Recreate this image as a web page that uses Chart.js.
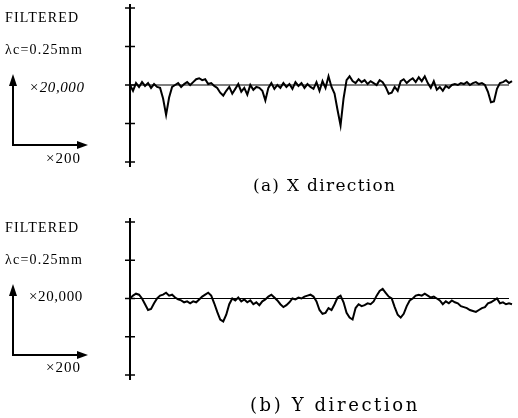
<!DOCTYPE html>
<html>
<head>
<meta charset="utf-8">
<script src="https://cdn.jsdelivr.net/npm/chart.js@4.4.1/dist/chart.umd.min.js"></script>
<style>
  html, body { margin: 0; padding: 0; background: #fff; }
  #page { position: relative; width: 518px; height: 418px; overflow: hidden; font-family: "Liberation Serif", serif; color: #000; }
  .box { position: absolute; left: 0; width: 518px; height: 200px; }
  .lbl { position: absolute; white-space: nowrap; line-height: 1; }
  .cap { position: absolute; white-space: nowrap; line-height: 1; font-family: "DejaVu Serif", serif; font-size: 17px; letter-spacing: 1.3px; }
  svg.arr { position: absolute; left: 0; top: 0; }
</style>
</head>
<body>
<div id="page">
  <div class="box" style="top:0"><canvas id="chartX"></canvas></div>
  <div class="box" style="top:200px"><canvas id="chartY"></canvas></div>

  <div class="lbl" style="left:5px;top:11px;font-size:14px;letter-spacing:1.2px">FILTERED</div>
  <div class="lbl" style="left:5px;top:43px;font-size:14px;letter-spacing:1.2px">λc=0.25mm</div>
  <div class="lbl" style="left:29px;top:80px;font-size:15px;letter-spacing:0.6px;font-style:italic">×20,000</div>
  <div class="lbl" style="left:46px;top:151px;font-size:15px;letter-spacing:1px">×200</div>

  <div class="lbl" style="left:5px;top:221px;font-size:14px;letter-spacing:1.2px">FILTERED</div>
  <div class="lbl" style="left:5px;top:253px;font-size:14px;letter-spacing:1.2px">λc=0.25mm</div>
  <div class="lbl" style="left:29px;top:289px;font-size:15px;letter-spacing:0.6px">×20,000</div>
  <div class="lbl" style="left:46px;top:360px;font-size:15px;letter-spacing:1px">×200</div>

  <div class="cap" style="left:253px;top:177px">(a) X direction</div>
  <div class="cap" style="left:250px;top:396px;font-size:18px;letter-spacing:2.6px">(b) Y direction</div>

  <svg class="arr" width="518" height="418">
    <g stroke="#000" stroke-width="2" fill="#000">
      <line x1="13" y1="146" x2="13" y2="82"/>
      <line x1="12" y1="145" x2="80" y2="145"/>
      <polygon points="13,74 9,86 17,86" stroke="none"/>
      <polygon points="88,145 77,141 77,149" stroke="none"/>
      <line x1="13" y1="356" x2="13" y2="292"/>
      <line x1="12" y1="355" x2="80" y2="355"/>
      <polygon points="13,284 9,296 17,296" stroke="none"/>
      <polygon points="88,355 77,351 77,359" stroke="none"/>
    </g>
  </svg>
</div>

<script>
// Profile heights, sampled evenly along the trace (arbitrary height units, 40 per division)
const profileX = [
  0, -6, 2, -2, 3, -1, 2, -3, 1, -2,
  -3, -14, -31, -13, -2, 0, 2, -2, 1, 3,
  0, 3, 6, 7, 5, 6, 1, 2, -1, -3,
  -8, -11, -6, -2, -9, -4, 1, -7, -3, -10,
  0, -5, -2, -3, -6, -16, -3, 2, -4, 0,
  -3, 2, -2, 1, -4, 3, -1, 2, -3, 1,
  -2, -4, 3, -6, 4, -3, 9, -2, -9, -26,
  -42, -14, 5, 9, 4, 2, 6, 3, 5, 1,
  4, 2, 0, 5, 3, -2, -9, -8, -2, -6,
  4, 6, 2, 5, 7, 3, 8, 4, 9, 2,
  -3, 4, -5, -2, -6, -1, -3, 0, 1, 0,
  2, 1, 3, 0, 2, 3, 1, 2, 0, -7,
  -18, -17, -4, 2, 3, 5, 2, 4
];

const profileY = [
  0, 3, 5, 4, 0, -6, -12, -11, -5, 0,
  3, 4, 6, 3, 4, 1, -1, -2, -4, -3,
  -5, -3, -4, -1, 2, 4, 6, 3, -5, -14,
  -22, -24, -17, -6, 0, -2, 1, -3, -1, -4,
  -2, -6, -4, -7, -3, -1, 2, 4, 1, -2,
  -6, -9, -7, -4, 0, -1, 1, 0, 2, 3,
  4, 2, -3, -12, -16, -15, -10, -12, -6, 1,
  3, -4, -15, -20, -22, -10, -6, -8, -7, -5,
  -6, -3, 3, 8, 10, 6, 2, 0, -9, -17,
  -20, -16, -8, -2, 0, 3, 4, 3, 5, 3,
  1, 2, 0, -2, -6, -3, -5, -2, -4, -5,
  -8, -9, -10, -12, -13, -14, -12, -10, -9, -5,
  -4, -2, 0, -5, -4, -6, -5, -6
];

const heightTicks = [-80, -40, 0, 40, 80];

// draws the vertical axis with crossing ticks and the zero line, from the chart's scales
const profileAxes = {
  id: "profileAxes",
  afterDatasetsDraw(chart) {
    const ctx = chart.ctx;
    const area = chart.chartArea;
    const yScale = chart.scales.y;
    const x0 = area.left;
    ctx.save();
    ctx.strokeStyle = "#000";
    ctx.lineWidth = 2;
    ctx.beginPath();
    ctx.moveTo(x0, area.top - 4);
    ctx.lineTo(x0, area.bottom + 5);
    ctx.stroke();
    ctx.lineWidth = 1.5;
    yScale.ticks.forEach(t => {
      const py = yScale.getPixelForValue(t.value);
      ctx.beginPath();
      ctx.moveTo(x0 - 5, py);
      ctx.lineTo(x0 + 5, py);
      ctx.stroke();
    });
    const zy = yScale.getPixelForValue(0);
    ctx.lineWidth = 1;
    ctx.beginPath();
    ctx.moveTo(x0, zy);
    ctx.lineTo(area.right - 3, zy);
    ctx.stroke();
    ctx.restore();
  }
};

function makeProfile(canvasId, values, padTop, padBottom) {
  const ctx = document.getElementById(canvasId).getContext("2d");
  return new Chart(ctx, {
    type: "line",
    data: {
      labels: values.map((_, i) => i),
      datasets: [{
        data: values,
        borderColor: "#000",
        borderWidth: 2,
        pointRadius: 0,
        tension: 0,
        fill: false
      }]
    },
    options: {
      responsive: true,
      maintainAspectRatio: false,
      animation: false,
      layout: {padding: {left: 130, right: 6, top: padTop, bottom: padBottom}},
      plugins: {legend: {display: false}, tooltip: {enabled: false}},
      scales: {
        x: {display: false, offset: false},
        y: {
          display: false,
          min: heightTicks[0],
          max: heightTicks[heightTicks.length - 1],
          afterBuildTicks: scale => { scale.ticks = heightTicks.map(v => ({value: v})); }
        }
      }
    },
    plugins: [profileAxes]
  });
}

makeProfile("chartX", profileX, 8, 38);
makeProfile("chartY", profileY, 22, 25);
</script>
</body>
</html>
